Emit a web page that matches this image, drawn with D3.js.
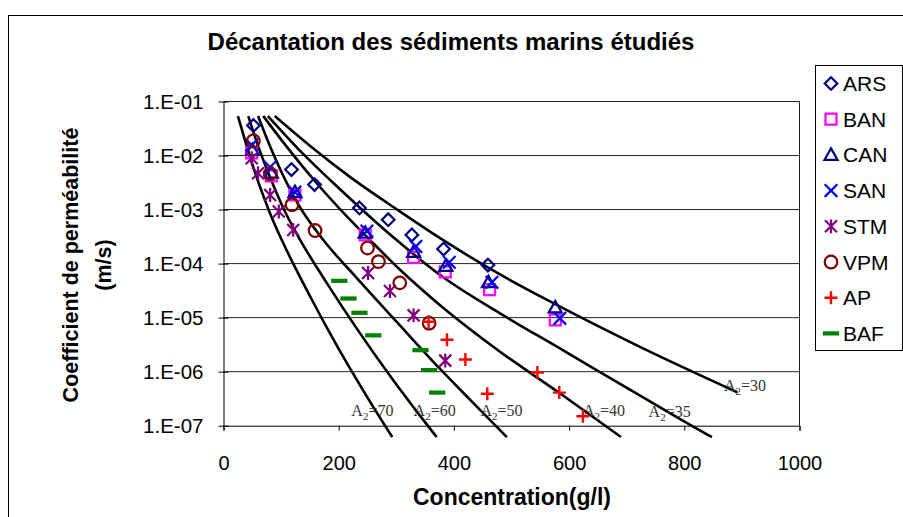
<!DOCTYPE html>
<html>
<head>
<meta charset="utf-8">
<script src="https://cdn.jsdelivr.net/npm/d3@7"></script>
<style>
  body { margin: 0; background: #fff; }
  svg { display: block; font-family: "Liberation Sans", Arial, sans-serif; }
</style>
</head>
<body>
<div id="chart"></div>
<script>
// Measured series: concentration (g/l) and permeability (m/s)
const ARS = [[52, 3.6e-2], [118, 5.5e-3], [158, 2.9e-3], [236, 1.07e-3], [286, 6.5e-4], [327, 3.4e-4], [382, 1.86e-4], [459, 9.4e-5]];
const BAN = [[49, 1.12e-2], [83, 4.2e-3], [124, 1.86e-3], [246, 3.4e-4], [330, 1.3e-4], [385, 7e-5], [462, 3.3e-5], [576, 9.1e-6]];
const CAN = [[50, 1.26e-2], [83, 4.8e-3], [124, 2.1e-3], [246, 3.7e-4], [330, 1.64e-4], [386, 9.0e-5], [460, 4.5e-5], [576, 1.54e-5]];
const SAN = [[49, 1.56e-2], [81, 6.1e-3], [124, 2.1e-3], [249, 4.0e-4], [334, 2.08e-4], [392, 1.06e-4], [466, 4.5e-5], [584, 9.7e-6]];
const STM = [[49, 8.9e-3], [60, 4.7e-3], [81, 1.86e-3], [96, 9.2e-4], [121, 4.2e-4], [251, 6.7e-5], [289, 3.1e-5], [330, 1.1e-5], [385, 1.6e-6]];
const VPM = [[52, 1.88e-2], [81, 4.6e-3], [119, 1.23e-3], [159, 4.1e-4], [250, 1.94e-4], [269, 1.09e-4], [306, 4.4e-5], [357, 7.9e-6]];
const AP  = [[356, 8.4e-6], [388, 3.9e-6], [420, 1.68e-6], [458, 3.9e-7], [545, 9.6e-7], [583, 4.1e-7], [624, 1.5e-7]];
const BAF = [[201, 4.8e-5], [217, 2.26e-5], [236, 1.23e-5], [260, 4.7e-6], [342, 2.5e-6], [357, 1.07e-6], [371, 4.1e-7]];

// Model curves (A2 values) as [C, log10 k]
const A2_70 = [[25, -1.27], [40, -1.81], [55, -2.32], [70, -2.77], [85, -3.18], [101, -3.56], [150, -4.60], [200, -5.58], [250, -6.48], [293, -7.21]];
const A2_60 = [[43, -1.27], [60, -1.82], [80, -2.38], [105, -3.00], [133, -3.56], [180, -4.37], [230, -5.18], [290, -6.09], [340, -6.80], [370, -7.21]];
const A2_50 = [[60, -1.27], [80, -1.81], [100, -2.29], [130, -2.91], [173, -3.56], [230, -4.25], [300, -5.07], [376, -5.95], [430, -6.54], [492, -7.21]];
const A2_40 = [[69, -1.27], [110, -1.84], [160, -2.49], [210, -3.08], [254, -3.56], [306, -4.11], [376, -4.77], [480, -5.63], [584, -6.40], [690, -7.21]];
const A2_35 = [[77, -1.27], [130, -1.88], [200, -2.60], [300, -3.56], [376, -4.21], [480, -4.92], [584, -5.57], [710, -6.36], [836, -7.14], [848, -7.21]];
const A2_30 = [[89, -1.27], [150, -1.82], [220, -2.40], [300, -2.99], [376, -3.53], [480, -4.20], [576, -4.75], [723, -5.54], [892, -6.38]];

const curveLabels = ['70', '60', '50', '40', '35', '30'];
const curveLabelPos = [[222, -6.82], [330, -6.82], [446, -6.82], [624, -6.82], [738, -6.84], [869, -6.35]];

const xTicks = [0, 200, 400, 600, 800, 1000];
const yTicks = [1e-1, 1e-2, 1e-3, 1e-4, 1e-5, 1e-6, 1e-7];
const yTickLabels = ['1.E-01', '1.E-02', '1.E-03', '1.E-04', '1.E-05', '1.E-06', '1.E-07'];

const W = 903, H = 517;
const plot = { left: 223.5, right: 799.5, top: 101.5, bottom: 425.7 };

const svg = d3.select('#chart').append('svg')
  .attr('width', W).attr('height', H);

// outer chart frame (runs off the right and bottom)
svg.append('rect')
  .attr('x', 8.5).attr('y', 15.5).attr('width', W).attr('height', H)
  .attr('fill', '#fff').attr('stroke', '#000').attr('stroke-width', 1);

const x = d3.scaleLinear().domain([0, 1000]).range([plot.left, plot.right]);
const y = d3.scaleLog().domain([1e-7, 1e-1]).range([plot.bottom, plot.top]);

// gridlines
svg.append('g').selectAll('line')
  .data(yTicks.slice(1, -1))
  .join('line')
  .attr('x1', plot.left).attr('x2', plot.right)
  .attr('y1', d => y(d)).attr('y2', d => y(d))
  .attr('stroke', '#222').attr('stroke-width', 1);

// plot border top/right
svg.append('path')
  .attr('d', `M${plot.left},${plot.top}H${plot.right}V${plot.bottom}`)
  .attr('fill', 'none').attr('stroke', '#222').attr('stroke-width', 1);

// x axis
const xAxis = svg.append('g')
  .attr('transform', `translate(0,${plot.bottom})`)
  .call(d3.axisBottom(x).tickValues(xTicks).tickSize(5).tickPadding(25).tickFormat(d3.format('d')));
xAxis.select('.domain').attr('stroke', '#000');
xAxis.selectAll('.tick line').attr('stroke', '#000');
xAxis.selectAll('text').attr('font-size', 20).attr('font-family', '"Liberation Sans", Arial, sans-serif').attr('fill', '#000');

// y axis (ticks cross the axis line)
const yAxis = svg.append('g')
  .attr('transform', `translate(${plot.left},0)`)
  .call(d3.axisLeft(y).tickValues(yTicks).tickSizeInner(5).tickSizeOuter(0).tickPadding(15)
    .tickFormat((d, i) => yTickLabels[i]));
yAxis.select('.domain').attr('stroke', '#000');
yAxis.selectAll('.tick line').attr('x1', -5).attr('x2', 5).attr('stroke', '#000');
yAxis.selectAll('text').attr('font-size', 20.5).attr('font-family', '"Liberation Sans", Arial, sans-serif').attr('fill', '#000');

// model curves
const line = d3.line()
  .x(d => x(d[0]))
  .y(d => y(Math.pow(10, d[1])))
  .curve(d3.curveMonotoneX);

svg.append('g').selectAll('path')
  .data([A2_70, A2_60, A2_50, A2_40, A2_35, A2_30])
  .join('path')
  .attr('d', line)
  .attr('fill', 'none').attr('stroke', '#000').attr('stroke-width', 2.6);

// curve labels
const lbl = svg.append('g').attr('font-family', '"Liberation Serif", "Times New Roman", serif')
  .attr('fill', '#333');
curveLabels.forEach((v, i) => {
  const t = lbl.append('text')
    .attr('x', x(curveLabelPos[i][0])).attr('y', y(Math.pow(10, curveLabelPos[i][1])))
    .attr('font-size', 16);
  t.append('tspan').text('A');
  t.append('tspan').attr('font-size', 11).attr('dy', 4).text('2');
  t.append('tspan').attr('dy', -4).text('=' + v);
});

// marker shapes
const shapes = {
  diamond: s => `M0,${-s}L${s},0L0,${s}L${-s},0Z`,
  square: s => `M${-s},${-s}H${s}V${s}H${-s}Z`,
  triangle: s => `M0,${-s}L${s},${s * 0.75}H${-s}Z`,
  cross: s => `M${-s},${-s}L${s},${s}M${s},${-s}L${-s},${s}`,
  star: s => `M${-s},${-s}L${s},${s}M${s},${-s}L${-s},${s}M0,${-s * 1.15}V${s * 1.15}`,
  circle: s => `M${s},0A${s},${s} 0 1 1 ${-s},0A${s},${s} 0 1 1 ${s},0Z`,
  plus: s => `M${-s},0H${s}M0,${-s}V${s}`,
  dash: s => `M${-s * 1.25},0H${s * 1.25}`
};

const series = [
  { name: 'ARS', data: ARS, shape: 'diamond', color: '#000080', size: 6.3, sw: 2.2 },
  { name: 'BAN', data: BAN, shape: 'square', color: '#ff00ff', size: 5.5, sw: 2.2 },
  { name: 'CAN', data: CAN, shape: 'triangle', color: '#000080', size: 6.5, sw: 2.2 },
  { name: 'SAN', data: SAN, shape: 'cross', color: '#0000ff', size: 6.3, sw: 2.2 },
  { name: 'STM', data: STM, shape: 'star', color: '#800080', size: 6, sw: 2.2 },
  { name: 'VPM', data: VPM, shape: 'circle', color: '#800000', size: 6.3, sw: 2.2 },
  { name: 'AP', data: AP, shape: 'plus', color: '#ff0000', size: 6.5, sw: 2.4 },
  { name: 'BAF', data: BAF, shape: 'dash', color: '#008000', size: 6.5, sw: 4.2 }
];

const marks = svg.append('g');
series.forEach(s => {
  marks.append('g').selectAll('path')
    .data(s.data)
    .join('path')
    .attr('transform', d => `translate(${x(d[0])},${y(d[1])})`)
    .attr('d', shapes[s.shape](s.size))
    .attr('fill', 'none')
    .attr('stroke', s.color)
    .attr('stroke-width', s.sw);
});

// legend
const legend = svg.append('g');
legend.append('rect')
  .attr('x', 815.5).attr('y', 65.5).attr('width', 87).attr('height', 285)
  .attr('fill', '#fff').attr('stroke', '#000').attr('stroke-width', 1);
series.forEach((s, i) => {
  const cy = 83.5 + i * 35.7;
  legend.append('path')
    .attr('transform', `translate(831,${cy})`)
    .attr('d', shapes[s.shape](s.size))
    .attr('fill', 'none').attr('stroke', s.color).attr('stroke-width', s.sw);
  legend.append('text')
    .attr('x', 843).attr('y', cy).attr('dy', '0.36em')
    .attr('font-size', 21).attr('fill', '#000')
    .text(s.name);
});

// titles
svg.append('text')
  .attr('x', 451).attr('y', 42).attr('dy', '0.35em')
  .attr('text-anchor', 'middle')
  .attr('font-size', 24).attr('font-weight', 'bold')
  .text('Décantation des sédiments marins étudiés');

svg.append('text')
  .attr('x', 512).attr('y', 497).attr('dy', '0.35em')
  .attr('text-anchor', 'middle')
  .attr('font-size', 23).attr('font-weight', 'bold')
  .text('Concentration(g/l)');

const yt = svg.append('text')
  .attr('transform', 'translate(88,265) rotate(-90)')
  .attr('text-anchor', 'middle')
  .attr('font-size', 21.5).attr('font-weight', 'bold');
yt.append('tspan').attr('x', 0).attr('dy', '-0.45em').text('Coefficient de perméabilité');
yt.append('tspan').attr('x', 0).attr('dy', '1.5em').text('(m/s)');
</script>
</body>
</html>
